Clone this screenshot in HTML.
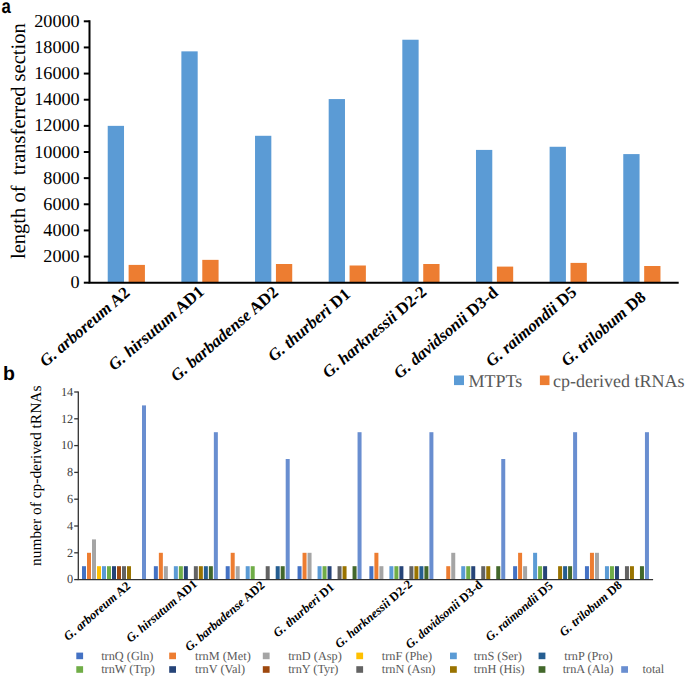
<!DOCTYPE html>
<html><head><meta charset="utf-8"><style>
html,body{margin:0;padding:0;background:#fff;}
svg{display:block;}
text{text-rendering:geometricPrecision;}
</style></head><body>
<svg width="685" height="677" viewBox="0 0 685 677">
<rect width="685" height="677" fill="#fff"/>
<text transform="translate(1.6,12.55) scale(0.86,1.02)" font-family='"Liberation Sans", sans-serif' font-weight="bold" font-size="19.5" fill="#000">a</text>
<text id="ya" transform="translate(24.9,141.15) rotate(-90)" text-anchor="middle" font-family='"Liberation Serif", serif' font-size="20.5" fill="#000">length of&#160; transferred section</text>
<rect x="107.72" y="125.86" width="16.3" height="156.84" fill="#5B9BD5"/>
<rect x="128.62" y="264.90" width="16.3" height="17.80" fill="#ED7D31"/>
<rect x="181.38" y="51.36" width="16.3" height="231.34" fill="#5B9BD5"/>
<rect x="202.28" y="259.85" width="16.3" height="22.85" fill="#ED7D31"/>
<rect x="255.03" y="135.79" width="16.3" height="146.91" fill="#5B9BD5"/>
<rect x="275.93" y="264.00" width="16.3" height="18.70" fill="#ED7D31"/>
<rect x="328.68" y="99.07" width="16.3" height="183.63" fill="#5B9BD5"/>
<rect x="349.58" y="265.50" width="16.3" height="17.20" fill="#ED7D31"/>
<rect x="402.32" y="39.73" width="16.3" height="242.97" fill="#5B9BD5"/>
<rect x="423.23" y="264.00" width="16.3" height="18.70" fill="#ED7D31"/>
<rect x="475.98" y="149.91" width="16.3" height="132.79" fill="#5B9BD5"/>
<rect x="496.88" y="266.60" width="16.3" height="16.10" fill="#ED7D31"/>
<rect x="549.62" y="146.77" width="16.3" height="135.93" fill="#5B9BD5"/>
<rect x="570.52" y="262.90" width="16.3" height="19.80" fill="#ED7D31"/>
<rect x="623.27" y="154.09" width="16.3" height="128.61" fill="#5B9BD5"/>
<rect x="644.17" y="266.00" width="16.3" height="16.70" fill="#ED7D31"/>
<path d="M89.50 20.30 V282.70 H678.70" fill="none" stroke="#000" stroke-width="2"/>
<line x1="83.8" x2="89.50" y1="282.70" y2="282.70" stroke="#000" stroke-width="2"/>
<text x="79.7" y="288.30" text-anchor="end" font-family='"Liberation Serif", serif' font-size="18.2" fill="#000">0</text>
<line x1="83.8" x2="89.50" y1="256.56" y2="256.56" stroke="#000" stroke-width="2"/>
<text x="79.7" y="262.16" text-anchor="end" font-family='"Liberation Serif", serif' font-size="18.2" fill="#000">2000</text>
<line x1="83.8" x2="89.50" y1="230.42" y2="230.42" stroke="#000" stroke-width="2"/>
<text x="79.7" y="236.02" text-anchor="end" font-family='"Liberation Serif", serif' font-size="18.2" fill="#000">4000</text>
<line x1="83.8" x2="89.50" y1="204.28" y2="204.28" stroke="#000" stroke-width="2"/>
<text x="79.7" y="209.88" text-anchor="end" font-family='"Liberation Serif", serif' font-size="18.2" fill="#000">6000</text>
<line x1="83.8" x2="89.50" y1="178.14" y2="178.14" stroke="#000" stroke-width="2"/>
<text x="79.7" y="183.74" text-anchor="end" font-family='"Liberation Serif", serif' font-size="18.2" fill="#000">8000</text>
<line x1="83.8" x2="89.50" y1="152.00" y2="152.00" stroke="#000" stroke-width="2"/>
<text x="79.7" y="157.60" text-anchor="end" font-family='"Liberation Serif", serif' font-size="18.2" fill="#000">10000</text>
<line x1="83.8" x2="89.50" y1="125.86" y2="125.86" stroke="#000" stroke-width="2"/>
<text x="79.7" y="131.46" text-anchor="end" font-family='"Liberation Serif", serif' font-size="18.2" fill="#000">12000</text>
<line x1="83.8" x2="89.50" y1="99.72" y2="99.72" stroke="#000" stroke-width="2"/>
<text x="79.7" y="105.32" text-anchor="end" font-family='"Liberation Serif", serif' font-size="18.2" fill="#000">14000</text>
<line x1="83.8" x2="89.50" y1="73.58" y2="73.58" stroke="#000" stroke-width="2"/>
<text x="79.7" y="79.18" text-anchor="end" font-family='"Liberation Serif", serif' font-size="18.2" fill="#000">16000</text>
<line x1="83.8" x2="89.50" y1="47.44" y2="47.44" stroke="#000" stroke-width="2"/>
<text x="79.7" y="53.04" text-anchor="end" font-family='"Liberation Serif", serif' font-size="18.2" fill="#000">18000</text>
<line x1="83.8" x2="89.50" y1="21.30" y2="21.30" stroke="#000" stroke-width="2"/>
<text x="79.7" y="26.90" text-anchor="end" font-family='"Liberation Serif", serif' font-size="18.2" fill="#000">20000</text>
<text id="la0" transform="translate(130.82,294.30) rotate(-40.6)" text-anchor="end" font-family='"Liberation Serif", serif' font-weight="bold" font-size="16.8" fill="#000"><tspan font-style="italic">G. arboreum</tspan> A2</text>
<text id="la1" transform="translate(205.18,293.20) rotate(-40.6)" text-anchor="end" font-family='"Liberation Serif", serif' font-weight="bold" font-size="16.8" fill="#000"><tspan font-style="italic">G. hirsutum</tspan> AD1</text>
<text id="la2" transform="translate(279.43,293.90) rotate(-40.6)" text-anchor="end" font-family='"Liberation Serif", serif' font-weight="bold" font-size="16.8" fill="#000"><tspan font-style="italic">G. barbadense</tspan> AD2</text>
<text id="la3" transform="translate(351.38,295.80) rotate(-40.6)" text-anchor="end" font-family='"Liberation Serif", serif' font-weight="bold" font-size="16.8" fill="#000"><tspan font-style="italic">G. thurberi</tspan> D1</text>
<text id="la4" transform="translate(427.62,293.50) rotate(-40.6)" text-anchor="end" font-family='"Liberation Serif", serif' font-weight="bold" font-size="16.8" fill="#000"><tspan font-style="italic">G. harknessii</tspan> D2-2</text>
<text id="la5" transform="translate(499.08,294.20) rotate(-40.6)" text-anchor="end" font-family='"Liberation Serif", serif' font-weight="bold" font-size="16.8" fill="#000"><tspan font-style="italic">G. davidsonii</tspan> D3-d</text>
<text id="la6" transform="translate(577.62,293.80) rotate(-40.6)" text-anchor="end" font-family='"Liberation Serif", serif' font-weight="bold" font-size="16.8" fill="#000"><tspan font-style="italic">G. raimondii</tspan> D5</text>
<text id="la7" transform="translate(646.77,298.70) rotate(-40.6)" text-anchor="end" font-family='"Liberation Serif", serif' font-weight="bold" font-size="16.8" fill="#000"><tspan font-style="italic">G. trilobum</tspan> D8</text>
<rect x="454" y="375.5" width="10" height="9.6" fill="#5B9BD5"/>
<text x="468.4" y="386.6" font-family='"Liberation Serif", serif' font-size="18" fill="#595959">MTPTs</text>
<rect x="539.9" y="375.5" width="9.6" height="9.6" fill="#ED7D31"/>
<text x="553.1" y="386.6" font-family='"Liberation Serif", serif' font-size="18" fill="#595959">cp-derived tRNAs</text>
<text x="3" y="380.2" font-family='"Liberation Sans", sans-serif' font-weight="bold" font-size="19.5" fill="#000">b</text>
<text id="yb" transform="translate(40.5,475.8) rotate(-90)" text-anchor="middle" font-family='"Liberation Serif", serif' font-size="15.45" fill="#000">number of cp-derived tRNAs</text>
<rect x="82.00" y="566.20" width="4" height="13.40" fill="#4472C4"/>
<rect x="87.00" y="552.80" width="4" height="26.80" fill="#ED7D31"/>
<rect x="92.00" y="539.40" width="4" height="40.20" fill="#A5A5A5"/>
<rect x="97.00" y="566.20" width="4" height="13.40" fill="#FFC000"/>
<rect x="102.00" y="566.20" width="4" height="13.40" fill="#5B9BD5"/>
<rect x="107.00" y="566.20" width="4" height="13.40" fill="#70AD47"/>
<rect x="112.00" y="566.20" width="4" height="13.40" fill="#264478"/>
<rect x="117.00" y="566.20" width="4" height="13.40" fill="#9E480E"/>
<rect x="122.00" y="566.20" width="4" height="13.40" fill="#636363"/>
<rect x="127.00" y="566.20" width="4" height="13.40" fill="#997300"/>
<rect x="142.00" y="405.40" width="4" height="174.20" fill="#698ED0"/>
<rect x="153.85" y="566.20" width="4" height="13.40" fill="#4472C4"/>
<rect x="158.85" y="552.80" width="4" height="26.80" fill="#ED7D31"/>
<rect x="163.85" y="566.20" width="4" height="13.40" fill="#A5A5A5"/>
<rect x="173.85" y="566.20" width="4" height="13.40" fill="#5B9BD5"/>
<rect x="178.85" y="566.20" width="4" height="13.40" fill="#70AD47"/>
<rect x="183.85" y="566.20" width="4" height="13.40" fill="#264478"/>
<rect x="193.85" y="566.20" width="4" height="13.40" fill="#636363"/>
<rect x="198.85" y="566.20" width="4" height="13.40" fill="#997300"/>
<rect x="203.85" y="566.20" width="4" height="13.40" fill="#255E91"/>
<rect x="208.85" y="566.20" width="4" height="13.40" fill="#43682B"/>
<rect x="213.85" y="432.20" width="4" height="147.40" fill="#698ED0"/>
<rect x="225.70" y="566.20" width="4" height="13.40" fill="#4472C4"/>
<rect x="230.70" y="552.80" width="4" height="26.80" fill="#ED7D31"/>
<rect x="235.70" y="566.20" width="4" height="13.40" fill="#A5A5A5"/>
<rect x="245.70" y="566.20" width="4" height="13.40" fill="#5B9BD5"/>
<rect x="250.70" y="566.20" width="4" height="13.40" fill="#70AD47"/>
<rect x="265.70" y="566.20" width="4" height="13.40" fill="#636363"/>
<rect x="275.70" y="566.20" width="4" height="13.40" fill="#255E91"/>
<rect x="280.70" y="566.20" width="4" height="13.40" fill="#43682B"/>
<rect x="285.70" y="459.00" width="4" height="120.60" fill="#698ED0"/>
<rect x="297.55" y="566.20" width="4" height="13.40" fill="#4472C4"/>
<rect x="302.55" y="552.80" width="4" height="26.80" fill="#ED7D31"/>
<rect x="307.55" y="552.80" width="4" height="26.80" fill="#A5A5A5"/>
<rect x="317.55" y="566.20" width="4" height="13.40" fill="#5B9BD5"/>
<rect x="322.55" y="566.20" width="4" height="13.40" fill="#70AD47"/>
<rect x="327.55" y="566.20" width="4" height="13.40" fill="#264478"/>
<rect x="337.55" y="566.20" width="4" height="13.40" fill="#636363"/>
<rect x="342.55" y="566.20" width="4" height="13.40" fill="#997300"/>
<rect x="352.55" y="566.20" width="4" height="13.40" fill="#43682B"/>
<rect x="357.55" y="432.20" width="4" height="147.40" fill="#698ED0"/>
<rect x="369.40" y="566.20" width="4" height="13.40" fill="#4472C4"/>
<rect x="374.40" y="552.80" width="4" height="26.80" fill="#ED7D31"/>
<rect x="379.40" y="566.20" width="4" height="13.40" fill="#A5A5A5"/>
<rect x="389.40" y="566.20" width="4" height="13.40" fill="#5B9BD5"/>
<rect x="394.40" y="566.20" width="4" height="13.40" fill="#70AD47"/>
<rect x="399.40" y="566.20" width="4" height="13.40" fill="#264478"/>
<rect x="409.40" y="566.20" width="4" height="13.40" fill="#636363"/>
<rect x="414.40" y="566.20" width="4" height="13.40" fill="#997300"/>
<rect x="419.40" y="566.20" width="4" height="13.40" fill="#255E91"/>
<rect x="424.40" y="566.20" width="4" height="13.40" fill="#43682B"/>
<rect x="429.40" y="432.20" width="4" height="147.40" fill="#698ED0"/>
<rect x="446.25" y="566.20" width="4" height="13.40" fill="#ED7D31"/>
<rect x="451.25" y="552.80" width="4" height="26.80" fill="#A5A5A5"/>
<rect x="461.25" y="566.20" width="4" height="13.40" fill="#5B9BD5"/>
<rect x="466.25" y="566.20" width="4" height="13.40" fill="#70AD47"/>
<rect x="471.25" y="566.20" width="4" height="13.40" fill="#264478"/>
<rect x="481.25" y="566.20" width="4" height="13.40" fill="#636363"/>
<rect x="486.25" y="566.20" width="4" height="13.40" fill="#997300"/>
<rect x="496.25" y="566.20" width="4" height="13.40" fill="#43682B"/>
<rect x="501.25" y="459.00" width="4" height="120.60" fill="#698ED0"/>
<rect x="513.10" y="566.20" width="4" height="13.40" fill="#4472C4"/>
<rect x="518.10" y="552.80" width="4" height="26.80" fill="#ED7D31"/>
<rect x="523.10" y="566.20" width="4" height="13.40" fill="#A5A5A5"/>
<rect x="533.10" y="552.80" width="4" height="26.80" fill="#5B9BD5"/>
<rect x="538.10" y="566.20" width="4" height="13.40" fill="#70AD47"/>
<rect x="543.10" y="566.20" width="4" height="13.40" fill="#264478"/>
<rect x="558.10" y="566.20" width="4" height="13.40" fill="#997300"/>
<rect x="563.10" y="566.20" width="4" height="13.40" fill="#255E91"/>
<rect x="568.10" y="566.20" width="4" height="13.40" fill="#43682B"/>
<rect x="573.10" y="432.20" width="4" height="147.40" fill="#698ED0"/>
<rect x="584.95" y="566.20" width="4" height="13.40" fill="#4472C4"/>
<rect x="589.95" y="552.80" width="4" height="26.80" fill="#ED7D31"/>
<rect x="594.95" y="552.80" width="4" height="26.80" fill="#A5A5A5"/>
<rect x="604.95" y="566.20" width="4" height="13.40" fill="#5B9BD5"/>
<rect x="609.95" y="566.20" width="4" height="13.40" fill="#70AD47"/>
<rect x="614.95" y="566.20" width="4" height="13.40" fill="#264478"/>
<rect x="624.95" y="566.20" width="4" height="13.40" fill="#636363"/>
<rect x="629.95" y="566.20" width="4" height="13.40" fill="#997300"/>
<rect x="639.95" y="566.20" width="4" height="13.40" fill="#43682B"/>
<rect x="644.95" y="432.20" width="4" height="147.40" fill="#698ED0"/>
<path d="M78.30 391.40 V579.60 H653.10" fill="none" stroke="#333" stroke-width="1.3"/>
<line x1="74.2" x2="78.30" y1="579.60" y2="579.60" stroke="#333" stroke-width="1.3"/>
<text x="73.2" y="583.30" text-anchor="end" font-family='"Liberation Serif", serif' font-size="12.3" fill="#404040">0</text>
<line x1="74.2" x2="78.30" y1="552.80" y2="552.80" stroke="#333" stroke-width="1.3"/>
<text x="73.2" y="556.50" text-anchor="end" font-family='"Liberation Serif", serif' font-size="12.3" fill="#404040">2</text>
<line x1="74.2" x2="78.30" y1="526.00" y2="526.00" stroke="#333" stroke-width="1.3"/>
<text x="73.2" y="529.70" text-anchor="end" font-family='"Liberation Serif", serif' font-size="12.3" fill="#404040">4</text>
<line x1="74.2" x2="78.30" y1="499.20" y2="499.20" stroke="#333" stroke-width="1.3"/>
<text x="73.2" y="502.90" text-anchor="end" font-family='"Liberation Serif", serif' font-size="12.3" fill="#404040">6</text>
<line x1="74.2" x2="78.30" y1="472.40" y2="472.40" stroke="#333" stroke-width="1.3"/>
<text x="73.2" y="476.10" text-anchor="end" font-family='"Liberation Serif", serif' font-size="12.3" fill="#404040">8</text>
<line x1="74.2" x2="78.30" y1="445.60" y2="445.60" stroke="#333" stroke-width="1.3"/>
<text x="73.2" y="449.30" text-anchor="end" font-family='"Liberation Serif", serif' font-size="12.3" fill="#404040">10</text>
<line x1="74.2" x2="78.30" y1="418.80" y2="418.80" stroke="#333" stroke-width="1.3"/>
<text x="73.2" y="422.50" text-anchor="end" font-family='"Liberation Serif", serif' font-size="12.3" fill="#404040">12</text>
<line x1="74.2" x2="78.30" y1="392.00" y2="392.00" stroke="#333" stroke-width="1.3"/>
<text x="73.2" y="395.70" text-anchor="end" font-family='"Liberation Serif", serif' font-size="12.3" fill="#404040">14</text>
<text id="lb0" transform="translate(131.32,587.10) rotate(-40.6)" text-anchor="end" font-family='"Liberation Serif", serif' font-weight="bold" font-size="12.45" fill="#000"><tspan font-style="italic">G. arboreum</tspan> A2</text>
<text id="lb1" transform="translate(197.97,585.30) rotate(-40.6)" text-anchor="end" font-family='"Liberation Serif", serif' font-weight="bold" font-size="12.45" fill="#000"><tspan font-style="italic">G. hirsutum</tspan> AD1</text>
<text id="lb2" transform="translate(265.52,586.40) rotate(-40.6)" text-anchor="end" font-family='"Liberation Serif", serif' font-weight="bold" font-size="12.45" fill="#000"><tspan font-style="italic">G. barbadense</tspan> AD2</text>
<text id="lb3" transform="translate(335.07,588.40) rotate(-40.6)" text-anchor="end" font-family='"Liberation Serif", serif' font-weight="bold" font-size="12.45" fill="#000"><tspan font-style="italic">G. thurberi</tspan> D1</text>
<text id="lb4" transform="translate(413.03,585.50) rotate(-40.6)" text-anchor="end" font-family='"Liberation Serif", serif' font-weight="bold" font-size="12.45" fill="#000"><tspan font-style="italic">G. harknessii</tspan> D2-2</text>
<text id="lb5" transform="translate(483.38,586.10) rotate(-40.6)" text-anchor="end" font-family='"Liberation Serif", serif' font-weight="bold" font-size="12.45" fill="#000"><tspan font-style="italic">G. davidsonii</tspan> D3-d</text>
<text id="lb6" transform="translate(553.62,587.00) rotate(-40.6)" text-anchor="end" font-family='"Liberation Serif", serif' font-weight="bold" font-size="12.45" fill="#000"><tspan font-style="italic">G. raimondii</tspan> D5</text>
<text id="lb7" transform="translate(622.68,586.30) rotate(-40.6)" text-anchor="end" font-family='"Liberation Serif", serif' font-weight="bold" font-size="12.45" fill="#000"><tspan font-style="italic">G. trilobum</tspan> D8</text>
<rect x="76.30" y="652.60" width="6.8" height="6.6" fill="#4472C4"/>
<text x="101.20" y="659.80" font-family='"Liberation Serif", serif' font-size="12.3" fill="#595959">trnQ (Gln)</text>
<rect x="169.20" y="652.60" width="6.8" height="6.6" fill="#ED7D31"/>
<text x="195.10" y="659.80" font-family='"Liberation Serif", serif' font-size="12.3" fill="#595959">trnM (Met)</text>
<rect x="262.80" y="652.60" width="6.8" height="6.6" fill="#A5A5A5"/>
<text x="288.20" y="659.80" font-family='"Liberation Serif", serif' font-size="12.3" fill="#595959">trnD (Asp)</text>
<rect x="356.30" y="652.60" width="6.8" height="6.6" fill="#FFC000"/>
<text x="381.80" y="659.80" font-family='"Liberation Serif", serif' font-size="12.3" fill="#595959">trnF (Phe)</text>
<rect x="450.00" y="652.60" width="6.8" height="6.6" fill="#5B9BD5"/>
<text x="473.80" y="659.80" font-family='"Liberation Serif", serif' font-size="12.3" fill="#595959">trnS (Ser)</text>
<rect x="538.60" y="652.60" width="6.8" height="6.6" fill="#255E91"/>
<text x="564.30" y="659.80" font-family='"Liberation Serif", serif' font-size="12.3" fill="#595959">trnP (Pro)</text>
<rect x="76.30" y="666.20" width="6.8" height="6.6" fill="#70AD47"/>
<text x="101.20" y="673.20" font-family='"Liberation Serif", serif' font-size="12.3" fill="#595959">trnW (Trp)</text>
<rect x="169.20" y="666.20" width="6.8" height="6.6" fill="#264478"/>
<text x="195.10" y="673.20" font-family='"Liberation Serif", serif' font-size="12.3" fill="#595959">trnV (Val)</text>
<rect x="262.80" y="666.20" width="6.8" height="6.6" fill="#9E480E"/>
<text x="288.20" y="673.20" font-family='"Liberation Serif", serif' font-size="12.3" fill="#595959">trnY (Tyr)</text>
<rect x="356.30" y="666.20" width="6.8" height="6.6" fill="#636363"/>
<text x="381.80" y="673.20" font-family='"Liberation Serif", serif' font-size="12.3" fill="#595959">trnN (Asn)</text>
<rect x="450.00" y="666.20" width="6.8" height="6.6" fill="#997300"/>
<text x="473.80" y="673.20" font-family='"Liberation Serif", serif' font-size="12.3" fill="#595959">trnH (His)</text>
<rect x="538.60" y="666.20" width="6.8" height="6.6" fill="#43682B"/>
<text x="562.70" y="673.20" font-family='"Liberation Serif", serif' font-size="12.3" fill="#595959">trnA (Ala)</text>
<rect x="621.20" y="666.20" width="6.8" height="6.6" fill="#698ED0"/>
<text x="642.40" y="673.20" font-family='"Liberation Serif", serif' font-size="12.3" fill="#595959">total</text>
</svg>
</body></html>
